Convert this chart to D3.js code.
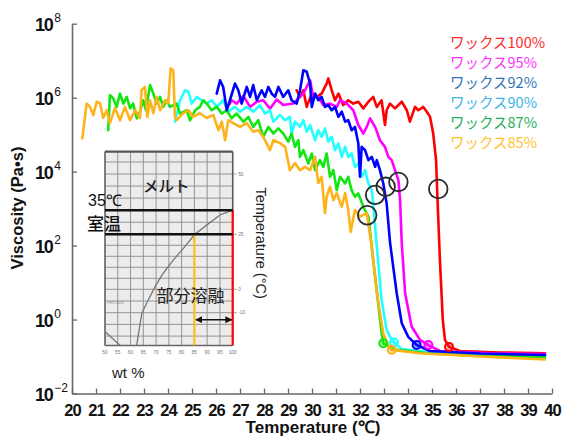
<!DOCTYPE html>
<html><head><meta charset="utf-8">
<script src="https://cdn.jsdelivr.net/npm/d3@7"></script>
<style>body{margin:0;background:#fff}svg{display:block}</style>
</head><body><svg id="c" width="575" height="437"></svg>
<script>
// ---------------- data ----------------
const xTicks = [20,21,22,23,24,25,26,27,28,29,30,31,32,33,34,35,36,37,38,39,40];
const yTickExps = [-2,0,2,4,6,8];

const seriesNames = ["ワックス100%","ワックス95%","ワックス92%","ワックス90%","ワックス87%","ワックス85%"];

// temperature (°C) and log10 viscosity (Pa·s)
const tRed = [29.36,29.50,29.64,29.78,29.99,30.20,30.40,30.61,30.68,30.82,30.96,31.10,31.30,31.51,31.72,31.93,32.14,32.35,32.55,32.70,32.90,33.04,33.11,33.25,33.46,33.74,33.95,34.08,34.29,34.43,34.64,34.78,34.92,35.05,35.17,35.22,35.33,35.45,35.54,35.71,36.17,37.83,39.71];
const vRed = [6.20,6.02,6.20,5.75,6.11,6.02,6.11,6.38,6.52,6.20,5.93,6.11,5.80,5.93,5.84,5.89,5.71,5.89,6.02,5.75,5.93,5.26,5.66,5.84,5.71,5.89,5.66,5.35,5.75,5.66,5.75,5.62,5.48,5.03,4.31,3.41,1.61,-0.01,-0.55,-0.74,-0.85,-0.89,-0.91];

const tMag = [26.58,26.65,26.86,27.14,27.42,27.70,27.97,28.25,28.53,28.80,29.22,29.50,29.64,29.92,30.05,30.26,30.47,30.75,31.03,31.17,31.45,31.72,31.93,32.14,32.28,32.42,32.63,32.83,33.04,33.18,33.32,33.46,33.60,33.67,33.74,33.88,34.15,34.50,34.85,35.33,37.42,39.71];
const vMag = [5.84,5.93,5.84,6.05,5.75,5.89,5.93,5.70,5.95,5.80,5.84,6.02,6.11,6.47,6.02,6.02,5.80,5.84,5.75,5.93,5.84,5.66,5.26,5.03,5.21,5.44,5.21,4.85,4.67,4.40,4.31,4.04,3.77,3.23,2.06,0.71,-0.19,-0.55,-0.69,-0.85,-0.91,-0.93];

const tBlue = [26.03,26.17,26.30,26.45,26.58,26.79,26.93,27.07,27.28,27.42,27.55,27.70,27.90,28.04,28.18,28.32,28.46,28.60,28.80,29.01,29.15,29.36,29.50,29.64,29.78,29.92,29.99,30.13,30.26,30.40,30.54,30.68,30.82,30.96,31.10,31.24,31.38,31.51,31.65,31.79,31.93,32.00,32.07,32.21,32.35,32.49,32.63,32.70,32.83,32.97,33.11,33.25,33.53,33.74,34.01,34.36,34.92,37.00,39.71];
const vBlue = [6.11,6.47,6.29,5.66,5.93,6.38,6.20,5.84,6.29,6.02,6.34,5.93,6.20,6.02,6.29,6.11,6.02,6.29,6.02,6.20,5.93,5.84,6.20,6.74,6.70,6.38,5.75,6.11,5.93,6.02,5.75,5.80,5.66,5.75,5.48,5.62,5.35,5.39,5.12,5.21,4.76,3.86,4.67,4.58,4.31,4.40,4.13,4.31,4.04,3.68,3.14,2.09,0.71,-0.10,-0.47,-0.69,-0.85,-0.92,-0.96];

const tCyan = [24.29,24.50,24.71,24.85,24.99,25.20,25.40,25.61,25.82,26.03,26.30,26.51,26.79,27.00,27.28,27.55,27.83,28.04,28.25,28.39,28.67,28.88,29.08,29.15,29.29,29.50,29.64,29.78,29.92,30.13,30.26,30.40,30.54,30.68,30.82,30.96,31.10,31.24,31.38,31.51,31.65,31.79,31.93,32.07,32.21,32.35,32.49,32.55,32.70,32.90,33.11,33.32,33.42,33.75,35.33,37.83,39.71];
const vCyan = [5.35,5.93,6.20,6.16,5.84,6.02,5.93,5.84,5.93,5.75,5.93,5.62,5.75,5.62,5.75,5.62,5.80,5.57,5.66,5.35,5.53,5.39,5.48,5.03,5.35,5.21,5.39,5.08,5.26,4.85,5.12,4.94,5.17,4.81,4.94,4.58,4.76,4.40,4.67,4.40,4.49,4.13,4.22,3.86,4.04,3.68,3.50,3.14,1.97,0.53,-0.28,-0.55,-0.62,-0.80,-0.92,-1.00,-1.04];

const tGreen = [21.51,21.58,21.72,21.86,22.00,22.14,22.28,22.42,22.55,22.70,22.83,22.97,23.08,23.25,23.39,23.53,23.67,23.80,23.95,24.08,24.36,24.50,24.78,24.92,25.13,25.33,25.47,25.61,25.82,26.03,26.24,26.45,26.65,26.86,27.14,27.35,27.55,27.76,27.97,28.18,28.39,28.60,28.80,29.01,29.15,29.29,29.43,29.50,29.64,29.85,29.99,30.13,30.33,30.47,30.61,30.75,30.89,31.03,31.17,31.38,31.51,31.65,31.79,31.93,32.14,32.35,32.55,32.76,32.90,32.97,33.54,34.92,37.42,39.71];
const vGreen = [5.12,6.07,5.98,5.75,6.11,5.84,6.02,5.71,5.84,5.44,5.62,5.93,5.66,6.34,6.11,5.84,6.02,5.75,5.93,5.75,5.84,5.57,5.66,5.39,5.66,5.75,5.93,5.84,5.66,5.75,5.57,5.66,5.44,5.57,5.35,5.48,5.21,5.39,4.94,5.21,5.03,5.17,5.03,4.81,5.03,4.67,4.85,4.40,4.58,4.22,4.49,4.04,4.31,4.13,4.49,3.86,4.04,3.50,3.86,3.68,3.86,3.50,3.32,3.41,3.05,2.78,1.61,0.44,-0.37,-0.64,-0.82,-0.92,-0.99,-1.01];

const tOrange = [20.43,20.61,20.75,20.89,21.03,21.17,21.30,21.45,21.58,21.79,22.00,22.21,22.42,22.63,22.83,22.90,23.04,23.14,23.25,23.39,23.53,23.67,23.88,24.01,24.11,24.22,24.29,24.36,24.64,24.85,25.05,25.33,25.61,25.89,26.10,26.24,26.38,26.51,26.72,27.00,27.28,27.55,27.76,27.97,28.25,28.39,28.67,28.88,29.08,29.29,29.50,29.71,29.92,30.13,30.26,30.40,30.54,30.61,30.75,30.89,31.03,31.24,31.38,31.51,31.61,31.79,32.00,32.28,32.49,32.70,32.97,33.18,33.32,34.50,37.00,39.71];
const vOrange = [4.90,5.84,5.75,5.53,5.89,5.85,5.45,5.66,5.31,5.72,5.39,5.75,5.39,5.66,5.45,6.20,6.29,5.48,5.93,5.58,6.02,5.66,5.93,5.85,6.79,6.74,5.48,5.39,5.58,5.66,5.48,5.58,5.45,5.53,5.12,5.35,4.85,5.39,5.31,5.21,5.31,5.08,5.12,4.94,4.58,4.85,4.77,4.67,4.04,4.23,4.04,4.13,4.04,4.40,3.69,3.86,2.88,3.32,3.59,3.23,3.42,3.05,3.42,2.96,2.37,2.96,2.78,2.88,1.97,0.72,-0.37,-0.74,-0.82,-0.91,-1.00,-1.08];

// small end-of-drop markers (red, magenta, blue, cyan, green, orange)
const markerT = [35.71,34.85,34.36,33.42,32.97,33.32];
const markerV = [-0.74,-0.69,-0.69,-0.62,-0.64,-0.82];

// black open circles marking the onset of the drop
const onsetT = [32.30,32.63,33.07,33.60,35.26];
const onsetV = [2.82,3.37,3.59,3.72,3.53];

// inset phase diagram
const insetWtTicks = [50,55,60,65,70,75,80,85,90,95,100];
const insetTempTicks = [50,25,0,-10];
const insetTempGrid = [-20,-15,-10,-5,0,5,10,15,20,25,30,35,40,45,50,55];
const liquidusWt = [62.4,64.4,66.3,69.6,72.8,76.7,80.7,85.2,89.8,95.0,100];
const liquidusTemp = [-24,-10.3,-6.0,1.2,7.3,13.3,18.6,25,28.8,33.0,35];
const pegWt = [50,55.9];
const pegTemp = [-18,-24];

// ---------------- drawing ----------------
const svg = d3.select("#c");
const x = d3.scaleLinear().domain([20,40]).range([72,552]);
const y = d3.scaleLog().domain([1e-2,1e8]).range([393.5,23.7]);

const lineColors = ["#ff0000","#ff00ff","#0000ff","#22ffff","#11e611","#ffb31a"];
const legendColors = ["#ff2a2a","#ff33ff","#2e75b6","#3cb4e6","#1fae55","#ffc12a"];
const tArr = [tRed,tMag,tBlue,tCyan,tGreen,tOrange];
const vArr = [vRed,vMag,vBlue,vCyan,vGreen,vOrange];
const sans = "Liberation Sans, Arial, sans-serif";
const jp = "Noto Sans CJK JP, sans-serif";

// ---- inset ----
const ix = d3.scaleLinear().domain([50,100]).range([105,232.7]);
const iy = d3.scaleLinear().domain([-10,0,25,50]).range([312.7,289.3,234.3,174]);
const iTop = 59.3, iBot = -24;
const inset = svg.append("g");
inset.append("rect").attr("x",ix(50)).attr("y",iy(iTop)).attr("width",ix(100)-ix(50)).attr("height",iy(iBot)-iy(iTop)).attr("fill","#ececec");
inset.selectAll("line.v").data(insetWtTicks).join("line").attr("class","v")
  .attr("x1",d=>ix(d)).attr("x2",d=>ix(d)).attr("y1",iy(iTop)).attr("y2",iy(iBot))
  .attr("stroke","#8a8a8a").attr("stroke-width",0.9);
inset.selectAll("line.h").data(insetTempGrid).join("line").attr("class","h")
  .attr("x1",ix(50)).attr("x2",ix(100)).attr("y1",d=>iy(d)).attr("y2",d=>iy(d))
  .attr("stroke","#8a8a8a").attr("stroke-width",0.9);
inset.append("line").attr("x1",ix(50)).attr("x2",ix(100)).attr("y1",iy(iBot)).attr("y2",iy(iBot)).attr("stroke","#666").attr("stroke-width",1.5);
inset.append("line").attr("x1",ix(50)).attr("x2",ix(100)).attr("y1",iy(iTop)).attr("y2",iy(iTop)).attr("stroke","#555").attr("stroke-width",2.2);
inset.append("line").attr("x1",ix(50)).attr("x2",ix(50)).attr("y1",iy(iTop)).attr("y2",iy(iBot)).attr("stroke","#666").attr("stroke-width",1.5);
inset.append("line").attr("x1",ix(100)).attr("x2",ix(100)).attr("y1",iy(iTop)).attr("y2",iy(35)).attr("stroke","#555").attr("stroke-width",1.5);
const iline = d3.line().x(d=>ix(d[0])).y(d=>iy(d[1]));
inset.append("path").attr("d",iline(d3.zip(liquidusWt,liquidusTemp))).attr("fill","none").attr("stroke","#777").attr("stroke-width",1.3);
inset.append("path").attr("d",iline(d3.zip(pegWt,pegTemp))).attr("fill","none").attr("stroke","#777").attr("stroke-width",1.3);
inset.append("line").attr("x1",ix(85)).attr("x2",ix(85)).attr("y1",iy(25)).attr("y2",iy(iBot)).attr("stroke","#ffc000").attr("stroke-width",2);
inset.append("line").attr("x1",ix(100)).attr("x2",ix(100)).attr("y1",iy(35)).attr("y2",iy(iBot)).attr("stroke","#ff0000").attr("stroke-width",2.2);
inset.append("line").attr("x1",ix(50)).attr("x2",ix(100)).attr("y1",iy(35)).attr("y2",iy(35)).attr("stroke","#111").attr("stroke-width",2.6);
inset.append("line").attr("x1",ix(50)).attr("x2",ix(100)).attr("y1",iy(25)).attr("y2",iy(25)).attr("stroke","#111").attr("stroke-width",2.6);
svg.append("defs").html('<marker id="ah" viewBox="0 0 10 10" refX="9" refY="5" markerWidth="5" markerHeight="5" orient="auto-start-reverse"><path d="M0,0L10,5L0,10z" fill="#111"/></marker>');
inset.append("line").attr("x1",ix(85.6)).attr("x2",ix(99.6)).attr("y1",iy(-13)).attr("y2",iy(-13))
  .attr("stroke","#111").attr("stroke-width",1.4).attr("marker-start","url(#ah)").attr("marker-end","url(#ah)");
inset.selectAll("text.wt").data(insetWtTicks).join("text").attr("class","wt")
  .attr("x",d=>ix(d)).attr("y",iy(iBot)+9).attr("text-anchor","middle")
  .attr("font-family",sans).attr("font-size",4.8).attr("fill","#777").text(d=>d);
inset.selectAll("line.tt").data(insetTempTicks).join("line").attr("class","tt")
  .attr("x1",ix(100)+1).attr("x2",ix(100)+4).attr("y1",d=>iy(d)).attr("y2",d=>iy(d)).attr("stroke","#888").attr("stroke-width",0.8);
inset.selectAll("text.tt").data(insetTempTicks).join("text").attr("class","tt")
  .attr("x",ix(100)+5.5).attr("y",d=>iy(d)+1.7)
  .attr("font-family",sans).attr("font-size",4.8).attr("fill","#777").text(d=>d);
inset.append("text").attr("x",ix(50)-1).attr("y",iy(-5.6)+1.5).attr("font-family",sans)
  .attr("font-size",3.6).attr("fill","#888").text("ｱ PEG 1000");
inset.append("text").attr("x",ix(74)).attr("y",iy(42.5)).attr("text-anchor","middle").attr("font-family",jp).attr("font-size",15.5).attr("font-weight",500).attr("fill","#222").text("メルト");
inset.append("text").attr("x",88).attr("y",iy(36.6)).attr("font-family",sans).attr("font-size",16).attr("fill","#111").text("35℃");
inset.append("text").attr("x",87).attr("y",iy(26.6)).attr("font-family",jp).attr("font-size",17).attr("font-weight",500).attr("fill","#111").text("室温");
inset.append("text").attr("x",ix(83.5)).attr("y",iy(-5.3)).attr("text-anchor","middle").attr("font-family",jp).attr("font-size",17).attr("fill","#222").text("部分溶融");
inset.append("text").attr("x",112).attr("y",378).attr("font-family",sans).attr("font-size",15).attr("fill","#222").text("wt %");
inset.append("text").attr("transform",`translate(${ix(100)+23},${iy(21)}) rotate(90)`).attr("text-anchor","middle")
  .attr("font-family",sans).attr("font-size",14.5).attr("fill","#222").text("Temperature (°C)");

// ---- main axes ----
const gx = svg.append("g").attr("transform","translate(0,393.5)")
  .call(d3.axisBottom(x).tickValues(xTicks).tickSize(-5).tickSizeOuter(0).tickPadding(11).tickFormat(d3.format("d")));
gx.select(".domain").attr("stroke","#666").attr("stroke-width",1.6);
gx.selectAll(".tick line").attr("stroke","#666").attr("stroke-width",1.3);
gx.selectAll(".tick text").attr("font-family",sans).attr("font-size",16.5).attr("font-weight","bold")
  .attr("letter-spacing",-1).attr("fill","#111");

const gy = svg.append("g").attr("transform","translate(72,0)")
  .call(d3.axisLeft(y).tickValues(yTickExps.map(e=>Math.pow(10,e))).tickSize(-5).tickSizeOuter(0).tickFormat(""));
gy.select(".domain").attr("stroke","#666").attr("stroke-width",1.6);
gy.selectAll(".tick line").attr("stroke","#666").attr("stroke-width",1.3);
gy.selectAll(".tick text").remove();
gy.selectAll(".tick").each(function(d){
  const e = Math.round(Math.log10(d));
  const t = d3.select(this).append("text").attr("x",-37).attr("y",7).attr("fill","#111")
    .attr("text-anchor","start").attr("font-family",sans);
  t.append("tspan").attr("font-size",18).attr("font-weight","bold").attr("letter-spacing",-1.2).text("10");
  t.append("tspan").attr("font-size",12).attr("dy",-9).attr("dx",1.5).text(e<0?"−"+(-e):String(e));
});

svg.append("text").attr("transform","translate(23,208) rotate(-90)").attr("text-anchor","middle")
  .attr("font-family",sans).attr("font-size",16.5).attr("font-weight","bold").attr("fill","#111")
  .text("Viscosity (Pa•s)");
svg.append("text").attr("x",313).attr("y",433).attr("text-anchor","middle")
  .attr("font-family",sans).attr("font-size",17).attr("font-weight","bold").attr("fill","#111")
  .text("Temperature (℃)");

// ---- curves ----
const line = d3.line().x(d=>x(d[0])).y(d=>y(Math.pow(10,d[1])));
const drawOrder = [0,1,3,4,5,2];
drawOrder.forEach(i=>{
  const pts = d3.zip(tArr[i], vArr[i]);
  svg.append("path").attr("d",line(pts)).attr("fill","none").attr("stroke",lineColors[i])
    .attr("stroke-width",2.6).attr("stroke-linejoin","round").attr("stroke-linecap","round");
});
svg.selectAll("circle.mk").data(d3.range(markerT.length)).join("circle").attr("class","mk")
  .attr("cx",i=>x(markerT[i])).attr("cy",i=>y(Math.pow(10,markerV[i]))).attr("r",4)
  .attr("fill",i=>lineColors[i]).attr("fill-opacity",0.35).attr("stroke",i=>lineColors[i]).attr("stroke-width",2);
svg.selectAll("circle.on").data(d3.range(onsetT.length)).join("circle").attr("class","on")
  .attr("cx",i=>x(onsetT[i])).attr("cy",i=>y(Math.pow(10,onsetV[i]))).attr("r",9.3)
  .attr("fill","none").attr("stroke","#2a2a2a").attr("stroke-width",1.8);

// ---- legend ----
svg.selectAll("text.lg").data(seriesNames).join("text").attr("class","lg")
  .attr("x",450).attr("y",(d,i)=>48+i*20).attr("font-family",jp).attr("font-size",14.5)
  .attr("fill",(d,i)=>legendColors[i]).text(d=>d);
</script></body></html>
